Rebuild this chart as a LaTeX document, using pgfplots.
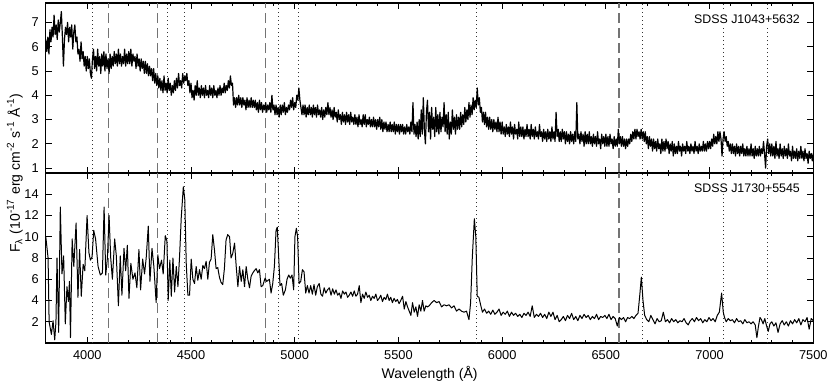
\documentclass[border=0pt]{standalone}
\usepackage{fontspec}
\setmainfont{Liberation Sans}
\usepackage{pgfplots}
\pgfplotsset{compat=1.18}

\definecolor{balmergray}{gray}{0.45}

\pgfplotsset{
  panel/.style={
    scale only axis, width=383.75pt, height=85pt,
    xmin=3800, xmax=7500,
    xtick={4000,4500,...,7500}, minor x tick num=4,
    tick align=inside, tick pos=both,
    major tick length=3pt, minor tick length=1.6pt,
    tick style={line width=0.5pt, black},
    axis line style={line width=0.6pt},
    ticklabel style={font=\fontsize{6.4}{7}\selectfont},
    /pgf/number format/assume math mode=true,
    /pgf/number format/1000 sep={},
    clip=true,
  },
  balmer/.style={balmergray, line width=0.6pt, dash pattern=on 5pt off 2.5pt},
  hei/.style={black!80, line width=0.5pt, dash pattern=on 0.5pt off 1.5pt},
  spec/.style={black, line width=0.5pt, line join=round},
}

% vertical marker lines: Balmer (dashed) and He I (dotted)
\newcommand\reflines[2]{%
  \addplot[balmer] coordinates {(4102,#1) (4102,#2)};
  \addplot[balmer] coordinates {(4340,#1) (4340,#2)};
  \addplot[balmer] coordinates {(4861,#1) (4861,#2)};
  \addplot[balmer] coordinates {(6563,#1) (6563,#2)};
  \addplot[hei] coordinates {(4026,#1) (4026,#2)};
  \addplot[hei] coordinates {(4388,#1) (4388,#2)};
  \addplot[hei] coordinates {(4471,#1) (4471,#2)};
  \addplot[hei] coordinates {(4922,#1) (4922,#2)};
  \addplot[hei] coordinates {(5016,#1) (5016,#2)};
  \addplot[hei] coordinates {(5876,#1) (5876,#2)};
  \addplot[hei] coordinates {(6678,#1) (6678,#2)};
  \addplot[hei] coordinates {(7065,#1) (7065,#2)};
  \addplot[hei] coordinates {(7281,#1) (7281,#2)};
}

\begin{document}
\begin{tikzpicture}
\useasboundingbox (-22.9pt,-19pt) rectangle (392.1pt,171.5pt);

% ---- top panel: SDSS J1043+5632
\begin{axis}[panel, at={(0,85pt)}, anchor=south west,
  ymin=0.8, ymax=7.8, ytick={1,...,7}, xticklabels={}]
\reflines{0.8}{7.8}
\addplot[spec, line width=0.6pt] coordinates {
(3800,6.3)(3805,5.8)(3810,6.4)(3815,5.7)(3820,6.7)(3825,6.2)(3830,6.8)(3835,6.4)(3840,7.3)(3845,6.5)(3850,6.9)(3855,6.3)(3860,7.1)(3865,6.6)(3870,7.0)(3875,7.45)(3880,6.4)(3885,5.2)(3890,6.3)(3895,6.8)
(3900,6.5)(3905,7.0)(3910,6.2)(3915,6.8)(3920,6.4)(3925,6.9)(3930,5.9)(3935,6.6)(3940,6.9)(3945,6.2)(3950,6.4)(3955,5.7)(3960,5.9)(3965,5.4)(3970,6.2)(3975,5.5)(3980,5.8)(3985,5.2)(3990,5.6)(3995,5.0)
(4000,5.6)(4005,5.1)(4010,5.5)(4015,4.9)(4020,4.7)(4025,5.5)(4030,5.9)(4035,5.1)(4040,5.6)(4045,5.0)(4050,5.9)(4055,5.2)(4060,5.6)(4065,4.9)(4070,5.7)(4075,5.2)(4080,5.8)(4085,5.0)(4090,5.7)(4095,5.1)
(4100,5.5)(4105,4.9)(4110,5.7)(4115,5.1)(4120,5.6)(4125,5.2)(4130,5.8)(4135,5.3)(4140,5.7)(4145,5.2)(4150,5.9)(4155,5.3)(4160,5.7)(4165,5.2)(4170,5.6)(4175,5.3)(4180,5.9)(4185,5.2)(4190,5.7)(4195,5.3)
(4200,5.8)(4205,5.3)(4210,5.9)(4215,5.2)(4220,5.7)(4225,5.4)(4230,5.6)(4235,5.1)(4240,5.7)(4245,5.2)(4250,5.5)(4255,5.0)(4260,5.5)(4265,5.1)(4270,5.4)(4275,4.9)(4280,5.4)(4285,4.9)(4290,5.3)(4295,4.8)
(4300,5.2)(4305,4.8)(4310,5.1)(4315,4.6)(4320,5.1)(4325,4.5)(4330,4.9)(4335,4.4)(4340,4.8)(4345,4.3)(4350,4.7)(4355,4.2)(4360,4.6)(4365,4.1)(4370,4.8)(4375,4.2)(4380,4.5)(4385,4.1)(4390,4.7)(4395,4.2)
(4400,4.5)(4405,4.0)(4410,4.4)(4415,4.1)(4420,4.6)(4425,4.2)(4430,4.7)(4435,4.3)(4440,4.9)(4445,4.4)(4450,4.6)(4455,4.3)(4460,4.9)(4465,4.5)(4470,4.8)(4475,4.6)(4480,4.9)(4485,4.4)(4490,4.6)(4495,4.1)
(4500,4.5)(4505,3.9)(4510,4.2)(4515,3.8)(4520,4.4)(4525,4.0)(4530,4.6)(4535,4.0)(4540,4.3)(4545,3.9)(4550,4.4)(4555,4.0)(4560,4.3)(4565,3.9)(4570,4.4)(4575,4.0)(4580,4.2)(4585,3.9)(4590,4.4)(4595,4.0)
(4600,4.3)(4605,3.9)(4610,4.4)(4615,4.0)(4620,4.2)(4625,3.9)(4630,4.3)(4635,4.0)(4640,4.4)(4645,4.0)(4650,4.3)(4655,4.1)(4660,4.5)(4665,4.1)(4670,4.4)(4675,4.2)(4680,4.6)(4685,4.3)(4690,4.8)(4695,4.4)
(4700,4.5)(4705,3.6)(4710,3.9)(4715,3.5)(4720,3.9)(4725,3.6)(4730,4.0)(4735,3.6)(4740,3.9)(4745,3.5)(4750,3.9)(4755,3.6)(4760,3.8)(4765,3.4)(4770,3.9)(4775,3.5)(4780,3.8)(4785,3.5)(4790,3.9)(4795,3.5)
(4800,3.8)(4805,3.5)(4810,3.8)(4815,3.4)(4820,3.7)(4825,3.3)(4830,3.8)(4835,3.4)(4840,3.7)(4845,3.3)(4850,3.6)(4855,3.4)(4860,3.7)(4865,3.3)(4870,3.6)(4875,3.4)(4880,3.7)(4885,3.3)(4890,4.0)(4895,3.4)
(4900,3.6)(4905,3.2)(4910,3.6)(4915,3.2)(4920,3.5)(4925,3.1)(4930,3.6)(4935,3.2)(4940,3.6)(4945,3.3)(4950,3.7)(4955,3.2)(4960,3.5)(4965,3.3)(4970,3.6)(4975,3.4)(4980,3.8)(4985,3.5)(4990,3.9)(4995,3.4)
(5000,3.7)(5005,3.5)(5010,4.0)(5015,3.8)(5020,4.3)(5025,3.8)(5030,3.5)(5035,3.2)(5040,3.6)(5045,3.2)(5050,3.6)(5055,3.1)(5060,3.5)(5065,3.2)(5070,3.6)(5075,3.2)(5080,3.5)(5085,3.1)(5090,3.6)(5095,3.2)
(5100,3.5)(5105,3.1)(5110,3.6)(5115,3.2)(5120,3.4)(5125,3.1)(5130,3.5)(5135,3.0)(5140,3.4)(5145,3.1)(5150,3.5)(5155,3.2)(5160,3.7)(5165,3.2)(5170,3.5)(5175,3.1)(5180,3.4)(5185,3.0)(5190,3.5)(5195,3.1)
(5200,3.3)(5205,2.9)(5210,3.4)(5215,3.0)(5220,3.2)(5225,2.8)(5230,3.3)(5235,2.9)(5240,3.2)(5245,2.8)(5250,3.3)(5255,2.9)(5260,3.2)(5265,2.8)(5270,3.3)(5275,2.9)(5280,3.1)(5285,2.8)(5290,3.2)(5295,2.8)
(5300,3.1)(5305,2.7)(5310,3.2)(5315,2.8)(5320,3.0)(5325,2.7)(5330,3.2)(5335,2.8)(5340,3.2)(5345,2.7)(5350,3.0)(5355,2.8)(5360,3.1)(5365,2.7)(5370,3.0)(5375,2.7)(5380,3.1)(5385,2.7)(5390,3.0)(5395,2.6)
(5400,3.0)(5405,2.7)(5410,3.1)(5415,2.6)(5420,3.0)(5425,2.5)(5430,2.9)(5435,2.6)(5440,2.9)(5445,2.5)(5450,2.8)(5455,2.5)(5460,2.9)(5465,2.5)(5470,2.8)(5475,2.5)(5480,2.9)(5485,2.4)(5490,2.8)(5495,2.5)
(5500,2.8)(5505,2.4)(5510,2.8)(5515,2.5)(5520,2.8)(5525,2.4)(5530,2.7)(5535,2.4)(5540,2.8)(5545,2.5)(5550,2.7)(5555,2.4)(5560,2.9)(5565,2.5)(5570,3.7)(5575,2.4)(5580,2.8)(5585,2.3)(5590,2.9)(5595,2.2)
(5600,3.0)(5605,2.3)(5610,3.4)(5615,2.4)(5620,3.9)(5625,2.6)(5630,2.0)(5635,3.3)(5640,3.8)(5645,2.5)(5650,3.3)(5655,2.2)(5660,3.5)(5665,2.6)(5670,3.1)(5675,2.3)(5680,3.5)(5685,2.5)(5690,3.2)(5695,2.4)
(5700,3.3)(5705,2.5)(5710,3.1)(5715,2.7)(5720,3.7)(5725,2.5)(5730,3.2)(5735,2.4)(5740,3.3)(5745,2.2)(5750,2.9)(5755,2.4)(5760,3.4)(5765,2.6)(5770,3.1)(5775,2.4)(5780,3.2)(5785,2.6)(5790,3.1)(5795,2.6)
(5800,3.3)(5805,2.7)(5810,3.2)(5815,2.8)(5820,3.5)(5825,2.9)(5830,3.4)(5835,3.0)(5840,3.7)(5845,3.1)(5850,3.6)(5855,3.2)(5860,3.9)(5865,3.4)(5870,3.8)(5875,3.5)(5880,4.3)(5885,3.6)(5890,3.9)(5895,3.3)
(5900,3.5)(5905,2.9)(5910,3.3)(5915,2.8)(5920,3.3)(5925,2.7)(5930,3.1)(5935,2.6)(5940,3.1)(5945,2.6)(5950,3.0)(5955,2.5)(5960,3.0)(5965,2.6)(5970,2.9)(5975,2.5)(5980,3.1)(5985,2.5)(5990,2.9)(5995,2.4)
(6000,2.9)(6005,2.4)(6010,2.7)(6015,2.3)(6020,2.8)(6025,2.4)(6030,2.7)(6035,2.3)(6040,2.9)(6045,2.4)(6050,2.7)(6055,2.2)(6060,2.8)(6065,2.4)(6070,2.6)(6075,2.2)(6080,2.9)(6085,2.3)(6090,2.7)(6095,2.3)
(6100,2.7)(6105,2.2)(6110,2.6)(6115,2.3)(6120,2.8)(6125,2.3)(6130,2.6)(6135,2.2)(6140,2.8)(6145,2.3)(6150,2.6)(6155,2.2)(6160,2.7)(6165,2.3)(6170,2.5)(6175,2.2)(6180,2.8)(6185,2.3)(6190,2.5)(6195,2.1)
(6200,2.6)(6205,2.2)(6210,2.5)(6215,2.1)(6220,2.6)(6225,2.2)(6230,2.5)(6235,2.1)(6240,2.7)(6245,2.2)(6250,2.5)(6255,2.1)(6260,3.3)(6265,2.3)(6270,2.6)(6275,2.1)(6280,2.5)(6285,2.1)(6290,2.6)(6295,2.2)
(6300,2.5)(6305,2.0)(6310,2.5)(6315,2.1)(6320,2.4)(6325,2.0)(6330,2.5)(6335,2.1)(6340,2.4)(6345,2.0)(6350,2.5)(6355,2.1)(6360,3.7)(6365,2.2)(6370,2.4)(6375,2.0)(6380,2.5)(6385,2.1)(6390,2.4)(6395,1.9)
(6400,2.5)(6405,2.0)(6410,2.4)(6415,2.0)(6420,2.5)(6425,2.0)(6430,2.3)(6435,1.9)(6440,2.4)(6445,2.0)(6450,2.3)(6455,1.9)(6460,2.5)(6465,2.0)(6470,2.2)(6475,1.8)(6480,2.4)(6485,2.0)(6490,2.3)(6495,1.9)
(6500,2.4)(6505,1.9)(6510,2.3)(6515,1.9)(6520,2.4)(6525,2.0)(6530,2.2)(6535,1.8)(6540,2.3)(6545,1.9)(6550,2.2)(6555,1.9)(6560,2.6)(6565,2.0)(6570,2.3)(6575,1.9)(6580,2.3)(6585,1.9)(6590,2.2)(6595,1.8)
(6600,2.2)(6605,1.9)(6610,2.2)(6615,2.0)(6620,2.4)(6625,2.1)(6630,2.5)(6635,2.2)(6640,2.6)(6645,2.2)(6650,2.6)(6655,2.3)(6660,2.5)(6665,2.2)(6670,2.6)(6675,2.2)(6680,2.5)(6685,2.1)(6690,2.5)(6695,2.0)
(6700,2.3)(6705,1.8)(6710,2.3)(6715,1.9)(6720,2.2)(6725,1.7)(6730,2.2)(6735,1.8)(6740,2.1)(6745,1.7)(6750,2.2)(6755,1.8)(6760,2.0)(6765,1.6)(6770,2.2)(6775,1.7)(6780,2.1)(6785,1.7)(6790,2.2)(6795,1.8)
(6800,2.1)(6805,1.6)(6810,2.0)(6815,1.7)(6820,2.1)(6825,1.5)(6830,2.0)(6835,1.6)(6840,1.9)(6845,1.6)(6850,2.1)(6855,1.7)(6860,1.9)(6865,1.5)(6870,2.0)(6875,1.7)(6880,1.9)(6885,1.6)(6890,2.1)(6895,1.7)
(6900,1.9)(6905,1.6)(6910,2.0)(6915,1.7)(6920,1.9)(6925,1.6)(6930,2.1)(6935,1.7)(6940,1.9)(6945,1.6)(6950,2.0)(6955,1.7)(6960,1.9)(6965,1.7)(6970,2.1)(6975,1.7)(6980,2.0)(6985,1.7)(6990,2.1)(6995,1.8)
(7000,2.1)(7005,1.8)(7010,2.2)(7015,1.9)(7020,2.4)(7025,2.0)(7030,2.3)(7035,2.0)(7040,2.5)(7045,2.1)(7050,2.5)(7055,2.2)(7060,1.5)(7065,2.2)(7070,2.5)(7075,2.1)(7080,2.3)(7085,1.9)(7090,2.1)(7095,1.7)
(7100,2.0)(7105,1.6)(7110,2.0)(7115,1.6)(7120,1.9)(7125,1.5)(7130,2.0)(7135,1.6)(7140,1.9)(7145,1.5)(7150,1.9)(7155,1.6)(7160,2.0)(7165,1.5)(7170,1.8)(7175,1.5)(7180,1.9)(7185,1.5)(7190,1.8)(7195,1.5)
(7200,2.0)(7205,1.5)(7210,1.8)(7215,1.4)(7220,1.9)(7225,1.5)(7230,1.8)(7235,1.5)(7240,1.9)(7245,1.5)(7250,1.8)(7255,1.6)(7260,2.1)(7265,1.6)(7270,1.0)(7275,1.9)(7280,2.2)(7285,1.6)(7290,2.0)(7295,1.5)
(7300,2.0)(7305,1.5)(7310,1.9)(7315,1.4)(7320,2.1)(7325,1.5)(7330,1.8)(7335,1.4)(7340,2.0)(7345,1.5)(7350,1.8)(7355,1.4)(7360,1.9)(7365,1.5)(7370,1.8)(7375,1.4)(7380,2.0)(7385,1.5)(7390,1.7)(7395,1.3)
(7400,1.9)(7405,1.4)(7410,1.7)(7415,1.4)(7420,1.8)(7425,1.3)(7430,1.7)(7435,1.4)(7440,1.9)(7445,1.4)(7450,1.7)(7455,1.3)(7460,1.8)(7465,1.4)(7470,1.6)(7475,1.2)(7480,1.7)(7485,1.4)(7490,1.6)(7495,1.3)(7500,1.6)
};
\node[anchor=north east, fill=white, inner sep=1pt, font=\fontsize{6.2}{7}\selectfont]
  at (rel axis cs:1,1) [xshift=-5.5pt, yshift=-4.5pt] {SDSS J1043+5632};
\end{axis}

% ---- bottom panel: SDSS J1730+5545
\begin{axis}[panel, at={(0,0)}, anchor=south west,
  ymin=0, ymax=16, ytick={2,4,...,14},
  xlabel={Wavelength (Å)},
  xlabel style={font=\fontsize{7}{8}\selectfont, at={(rel axis cs:0.5,0)}, anchor=north, yshift=-8pt}]
\reflines{0}{16}
\addplot[spec] coordinates {
(3800,10.0)(3811,8.0)(3816,2.0)(3827,0.8)(3835,2.1)(3843,0.3)(3849,2.0)(3854,8.0)(3862,1.0)(3870,12.8)
(3878,6.5)(3886,8.2)(3894,1.8)(3902,5.3)(3909,3.9)(3914,5.8)(3919,0.5)(3927,9.8)(3935,7.2)(3946,11.3)
(3955,4.3)(3963,8.8)(3971,4.4)(3980,7.4)(3988,6.8)(3999,12.0)(4008,8.5)(4015,7.8)(4023,8.1)(4031,10.6)
(4040,9.8)(4052,7.2)(4063,6.4)(4073,6.6)(4081,12.8)(4089,6.4)(4097,8.0)(4105,12.0)(4113,8.0)(4121,6.0)
(4132,9.8)(4140,8.2)(4150,3.5)(4159,8.2)(4167,4.5)(4177,8.9)(4185,6.8)(4193,9.2)(4201,4.2)(4210,7.5)
(4220,6.0)(4230,6.6)(4239,5.2)(4249,8.8)(4257,5.0)(4267,7.9)(4276,6.5)(4284,8.0)(4294,11.0)(4302,5.8)
(4312,8.9)(4321,7.2)(4332,3.8)(4340,8.3)(4348,7.0)(4358,7.8)(4366,6.5)(4376,10.1)(4384,9.6)(4390,4.0)
(4398,7.8)(4405,4.4)(4413,8.0)(4421,4.8)(4429,7.2)(4437,5.3)(4445,8.2)(4453,11.8)(4463,14.7)(4470,13.5)
(4477,7.5)(4485,4.5)(4493,4.5)(4501,7.9)(4509,6.0)(4517,5.6)(4525,7.2)(4533,5.9)(4541,6.9)(4549,6.0)
(4557,7.3)(4565,7.0)(4573,7.7)(4581,6.0)(4589,7.6)(4597,7.9)(4605,10.2)(4613,8.8)(4621,7.0)(4629,7.1)
(4637,6.2)(4645,5.7)(4653,5.5)(4661,7.0)(4669,9.7)(4677,10.2)(4686,10.0)(4693,8.0)(4701,8.4)(4710,9.4)
(4718,7.2)(4726,5.3)(4734,7.2)(4742,5.8)(4750,6.9)(4758,5.3)(4766,7.2)(4774,6.0)(4782,5.2)(4790,6.3)
(4801,6.7)(4814,7.0)(4822,6.6)(4830,6.9)(4838,5.3)(4846,5.4)(4857,6.1)(4865,5.8)(4878,6.0)(4886,4.7)
(4894,5.6)(4902,7.2)(4910,10.6)(4916,10.9)(4923,8.0)(4929,5.4)(4937,5.6)(4945,4.5)(4955,5.0)(4963,6.0)
(4971,6.4)(4979,6.1)(4987,6.4)(4995,5.0)(5001,10.0)(5008,10.8)(5014,10.0)(5021,5.6)(5029,5.8)(5037,6.9)
(5045,6.7)(5053,4.7)(5061,5.4)(5069,4.7)(5077,5.4)(5085,4.6)(5093,5.5)(5101,4.5)(5109,5.3)(5118,5.6)
(5126,4.6)(5134,4.4)(5142,5.2)(5150,4.7)(5158,5.0)(5167,5.2)(5175,4.5)(5183,5.1)(5191,4.6)(5199,5.0)
(5207,4.5)(5215,4.7)(5223,4.2)(5231,4.9)(5239,4.6)(5247,4.8)(5255,4.3)(5263,4.5)(5271,4.8)(5279,4.4)
(5287,4.9)(5295,4.4)(5303,4.6)(5311,5.4)(5319,3.8)(5327,4.6)(5335,4.2)(5343,4.8)(5351,4.3)(5359,4.5)
(5367,4.0)(5375,4.4)(5383,4.2)(5391,4.6)(5399,4.0)(5407,4.2)(5415,4.5)(5423,3.9)(5431,4.3)(5439,4.1)
(5447,4.6)(5455,4.0)(5463,4.3)(5471,3.8)(5479,4.2)(5487,3.9)(5495,4.1)(5503,3.7)(5511,4.0)(5520,4.4)
(5528,3.2)(5536,3.9)(5544,3.4)(5552,3.0)(5560,2.6)(5568,3.8)(5576,2.9)(5584,3.4)(5592,2.5)(5600,3.6)
(5608,3.0)(5616,4.0)(5624,3.0)(5632,3.5)(5640,3.4)(5648,3.5)(5660,3.8)(5672,4.0)(5684,3.8)(5696,3.9)
(5708,3.4)(5720,3.6)(5732,3.5)(5744,3.6)(5756,3.3)(5768,3.5)(5780,3.0)(5792,3.2)(5804,3.0)(5816,2.9)
(5828,3.0)(5840,2.2)(5848,3.8)(5856,8.0)(5866,11.7)(5873,10.0)(5880,4.4)(5888,4.3)(5896,3.6)(5905,2.9)
(5915,3.2)(5925,2.8)(5935,3.0)(5945,2.7)(5955,3.1)(5965,2.7)(5975,2.9)(5985,3.2)(5995,2.6)(6005,2.9)
(6015,2.7)(6025,3.0)(6035,2.5)(6045,2.9)(6055,2.6)(6065,2.8)(6075,2.5)(6085,2.7)(6095,2.4)(6105,2.8)
(6115,2.6)(6125,2.9)(6135,2.5)(6145,3.5)(6155,2.4)(6165,2.7)(6175,2.5)(6185,2.8)(6195,2.4)(6205,2.7)
(6215,2.3)(6225,2.9)(6235,2.5)(6245,2.9)(6255,2.2)(6265,2.6)(6275,2.0)(6285,2.2)(6295,2.5)(6305,2.1)
(6315,2.6)(6325,2.3)(6335,2.8)(6345,2.2)(6355,2.5)(6365,2.1)(6375,2.6)(6385,2.3)(6395,2.7)(6405,2.4)
(6415,2.6)(6425,2.2)(6435,2.5)(6445,2.3)(6455,2.7)(6465,2.2)(6475,2.5)(6485,2.4)(6495,2.6)(6505,2.3)
(6515,2.7)(6525,2.2)(6535,2.5)(6545,2.3)(6555,1.6)(6565,2.4)(6575,2.2)(6585,2.4)(6595,2.0)(6605,2.4)
(6615,2.3)(6625,2.5)(6635,2.3)(6645,2.6)(6655,2.8)(6663,4.4)(6671,6.2)(6679,4.0)(6687,2.6)(6697,2.2)
(6707,2.0)(6717,2.6)(6727,2.2)(6737,1.8)(6747,2.3)(6757,2.0)(6767,2.1)(6777,2.9)(6787,2.0)(6797,2.2)
(6807,1.9)(6817,2.3)(6827,2.0)(6837,2.2)(6847,1.9)(6857,2.1)(6867,2.0)(6877,2.3)(6887,1.9)(6897,1.7)
(6907,2.1)(6917,2.3)(6927,2.0)(6937,2.4)(6947,2.1)(6957,2.3)(6967,1.9)(6977,2.2)(6987,2.0)(6997,2.4)
(7007,2.1)(7017,2.3)(7027,2.0)(7037,2.6)(7047,2.9)(7058,4.7)(7066,2.9)(7072,2.4)(7080,2.0)(7090,2.3)
(7100,2.1)(7110,2.2)(7120,1.9)(7130,2.3)(7140,2.0)(7150,2.1)(7160,1.8)(7170,2.2)(7180,1.9)(7190,2.0)
(7200,1.8)(7210,2.0)(7220,1.7)(7228,0.5)(7235,1.5)(7243,2.4)(7250,2.2)(7258,1.8)(7266,2.3)(7275,1.6)
(7283,1.1)(7291,1.8)(7300,2.0)(7310,1.6)(7320,1.9)(7330,1.0)(7340,1.8)(7350,2.1)(7360,1.7)(7370,2.0)
(7380,1.6)(7390,2.1)(7400,1.8)(7410,2.2)(7420,1.9)(7430,2.3)(7440,1.7)(7450,2.2)(7460,2.0)(7470,2.4)
(7480,1.3)(7490,2.3)(7500,2.1)
};
\node[anchor=north east, fill=white, inner sep=1pt, font=\fontsize{6.2}{7}\selectfont]
  at (rel axis cs:1,1) [xshift=-5.5pt, yshift=-4pt] {SDSS J1730+5545};
\end{axis}

% shared y label
\node[rotate=90, font=\fontsize{7}{8}\selectfont] at (-15.5pt,85pt)
  {F\textsubscript{λ} (10\textsuperscript{-17} erg cm\textsuperscript{-2} s\textsuperscript{-1} Å\textsuperscript{-1})};
\end{tikzpicture}
\end{document}
